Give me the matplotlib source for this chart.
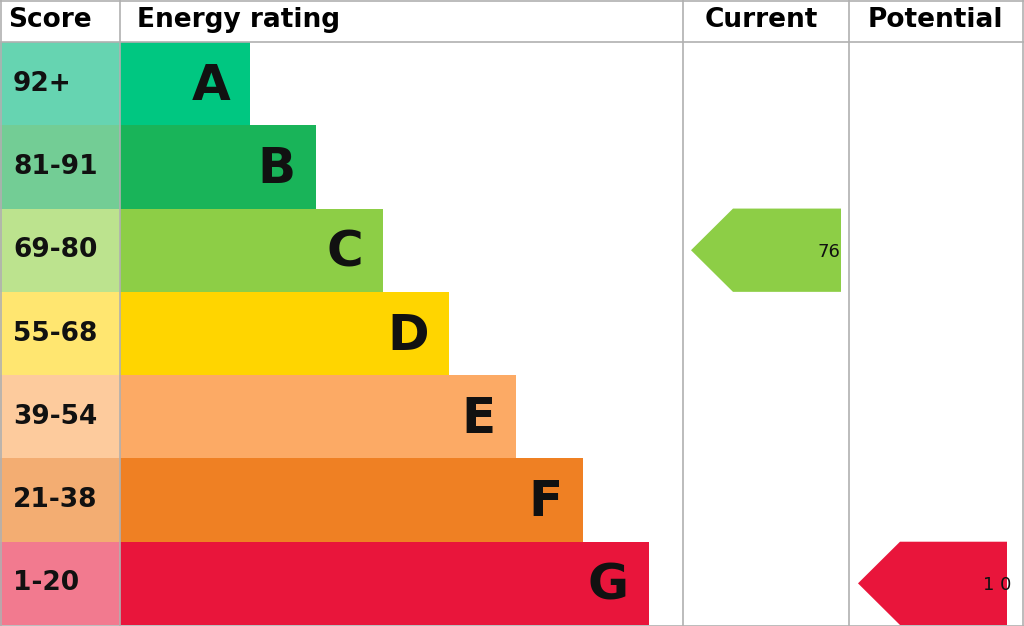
import matplotlib
matplotlib.use("Agg")
import matplotlib.pyplot as plt
from matplotlib.patches import Rectangle, Polygon

ranges = ["92+", "81-91", "69-80", "55-68", "39-54", "21-38", "1-20"]
letters = ["A", "B", "C", "D", "E", "F", "G"]
bar_colors = ["#00c781", "#19b459", "#8dce46", "#ffd500", "#fcaa65", "#ef8023", "#e9153b"]
score_colors = ["#66d4b1", "#73cd95", "#bce38e", "#ffe670", "#fdcb9d", "#f3ad72", "#f27a8f"]
bar_ends = [250, 316, 383, 449, 516, 583, 649]
current_value = 76
current_band = 2
potential_value = 10
potential_band = 6

fig = plt.figure(figsize=(10.24, 6.26), dpi=100)
ax = fig.add_axes([0, 0, 1, 1])
ax.set_xlim(0, 1024)
ax.set_ylim(626, 0)
ax.axis("off")

top = 42
h = (625 - top) / 7
grey = "#b0b0b0"
for i in range(7):
    y0 = top + i * h
    ax.add_patch(Rectangle((0, y0), 120, h, color=score_colors[i], lw=0))
    ax.add_patch(Rectangle((120, y0), bar_ends[i] - 120, h, color=bar_colors[i], lw=0))
    ax.text(13, y0 + h / 2, ranges[i], fontsize=19, fontweight="bold", va="center", ha="left", color="#111")
    ax.text(bar_ends[i] - 20, y0 + h / 2 + 2, letters[i], fontsize=36, fontweight="bold", va="center", ha="right", color="#111")

for x in [0.5, 120, 683, 849, 1022.5]:
    ax.plot([x, x], [0, 626], color=grey, lw=1.2)
for y in [0.5, 42, 625.5]:
    ax.plot([0, 1024], [y, y], color=grey, lw=1.2)

hdr_y = 20
ax.text(8, hdr_y, "Score", fontsize=19, fontweight="bold", va="center")
ax.text(137, hdr_y, "Energy rating", fontsize=19, fontweight="bold", va="center")
ax.text(761, hdr_y, "Current", fontsize=19, fontweight="bold", va="center", ha="center")
ax.text(935, hdr_y, "Potential", fontsize=19, fontweight="bold", va="center", ha="center")

def arrow(band, tip, right, value, color, tx, ha):
    y0 = top + band * h
    y1 = y0 + h
    pts = [(tip, (y0 + y1) / 2), (tip + 42, y0), (right, y0), (right, y1), (tip + 42, y1)]
    poly = Polygon(pts, closed=True, color=color, lw=0)
    ax.add_patch(poly)
    t = ax.text(tx, (y0 + y1) / 2 + 2, str(value), fontsize=13, va="center", ha=ha, color="#111")
    t.set_clip_path(poly)

arrow(current_band, 691, 841, current_value, bar_colors[current_band], 829, "center")
arrow(potential_band, 858, 1007, potential_value, bar_colors[potential_band], 983, "left")
t = ax.texts[-1]
t.set_text(" ".join(str(potential_value)))

fig.savefig("out.png", dpi=100)
